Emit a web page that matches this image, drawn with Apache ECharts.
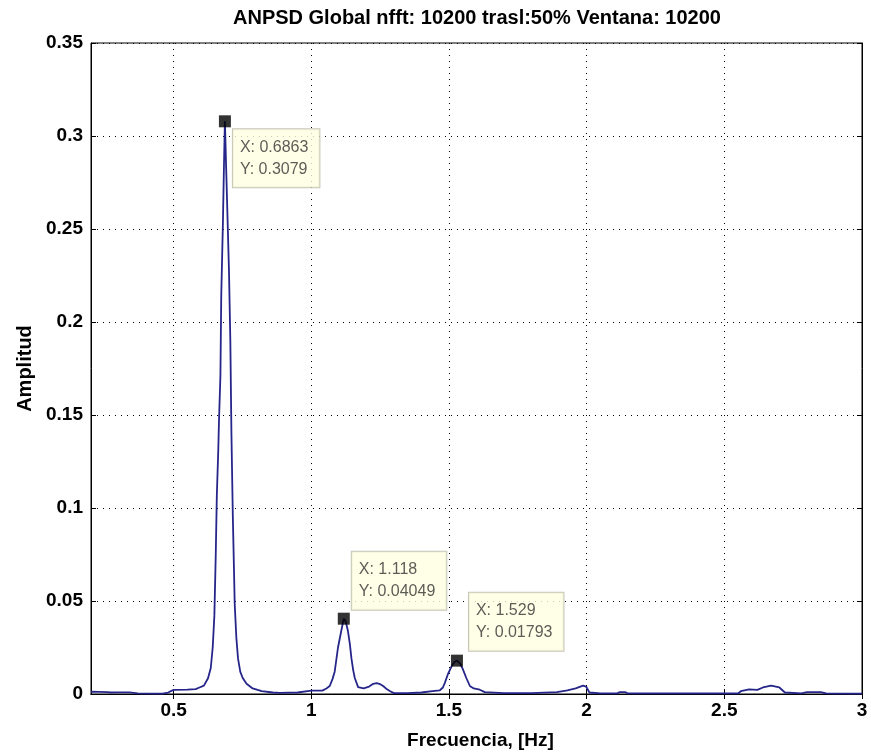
<!DOCTYPE html>
<html>
<head>
<meta charset="utf-8">
<script src="https://cdn.jsdelivr.net/npm/echarts@6/dist/echarts.min.js"></script>
<style>
html,body{margin:0;padding:0;background:#fff;overflow:hidden;}
#c{width:871px;height:755px;}
</style>
</head>
<body>
<div id="c"></div>
<script>
var freq = [0.20,0.23,0.26,0.27,0.30,0.34,0.37,0.42,0.46,0.48,0.50,0.55,0.58,0.594,0.61,0.625,0.635,0.642,0.648,0.653,0.657,0.662,0.665,0.670,0.673,0.679,0.683,0.6863,0.691,0.696,0.701,0.706,0.710,0.715,0.722,0.728,0.734,0.742,0.751,0.765,0.787,0.82,0.86,0.885,0.95,1.00,1.04,1.055,1.067,1.077,1.085,1.097,1.109,1.118,1.125,1.133,1.140,1.146,1.152,1.158,1.170,1.190,1.210,1.225,1.237,1.250,1.261,1.275,1.285,1.30,1.35,1.40,1.44,1.467,1.478,1.485,1.497,1.510,1.520,1.529,1.540,1.550,1.563,1.576,1.590,1.612,1.63,1.70,1.80,1.892,1.93,1.96,1.987,1.998,2.01,2.05,2.11,2.12,2.14,2.15,2.30,2.45,2.55,2.56,2.59,2.62,2.64,2.67,2.70,2.72,2.78,2.80,2.85,2.87,2.95,3.00];
var amp = [0.0012,0.0011,0.0010,0.0008,0.0009,0.0009,0.0003,0.0002,0.0002,0.0008,0.0022,0.0024,0.0026,0.0035,0.0045,0.0085,0.0140,0.0250,0.0420,0.0745,0.1070,0.1300,0.1480,0.1710,0.2140,0.2530,0.2850,0.3079,0.2820,0.2550,0.2280,0.1900,0.1400,0.0960,0.0480,0.0300,0.0190,0.0120,0.0086,0.0055,0.0030,0.0015,0.0008,0.0006,0.0008,0.0018,0.0018,0.0030,0.0043,0.0080,0.0120,0.0250,0.0340,0.04049,0.0390,0.0340,0.0270,0.0190,0.0130,0.0086,0.0037,0.0030,0.0040,0.0055,0.0059,0.0053,0.0043,0.0025,0.0016,0.0005,0.0005,0.0008,0.0016,0.0020,0.0035,0.0060,0.0110,0.0150,0.0172,0.01793,0.0165,0.0135,0.0086,0.0043,0.0030,0.0023,0.0010,0.0005,0.0005,0.0010,0.0020,0.0030,0.0045,0.0040,0.0008,0.0003,0.0003,0.0010,0.0010,0.0003,0.0003,0.0003,0.0003,0.0015,0.0025,0.0022,0.0035,0.0045,0.0035,0.0008,0.0003,0.0010,0.0010,0.0003,0.0002,0.0002];
var tipX = [0.6863, 1.118, 1.529];
var tipY = [0.3079, 0.04049, 0.01793];
var xTicks = [0.5, 1, 1.5, 2, 2.5, 3];
var titleText = 'ANPSD Global nfft: 10200 trasl:50% Ventana: 10200';
var xName = 'Frecuencia, [Hz]';
var yName = 'Amplitud';

var labelPos = [[14, 14], [14, -61], [18, -62]];

var lineData = freq.map(function (f, i) { return [f, amp[i]]; });
var tipData = tipX.map(function (x, i) {
  return {
    value: [x, tipY[i]],
    label: { position: labelPos[i] }
  };
});

var font = 'Liberation Sans, Arial, sans-serif';
var gridLine = { show: true, lineStyle: { color: '#000', width: 1, type: [1, 5] } };

var chart = echarts.init(document.getElementById('c'), null, { renderer: 'canvas', width: 871, height: 755 });
chart.setOption({
  backgroundColor: '#fff',
  animation: false,
  title: {
    text: titleText, left: 228, top: 3,
    textStyle: { fontFamily: font, fontWeight: 'bold', fontSize: 20, color: '#000' }
  },
  grid: { left: 91, top: 43, width: 771, height: 653, show: true, borderColor: '#000', borderWidth: 1, backgroundColor: '#fff' },
  xAxis: [{
    type: 'value', min: 0.2, max: 3, position: 'bottom',
    name: xName, nameLocation: 'middle', nameGap: 37,
    nameTextStyle: { fontFamily: font, fontWeight: 'bold', fontSize: 19, color: '#000', padding: [0, 0, 0, 8] },
    axisLine: { show: true, lineStyle: { color: '#000', width: 1 } },
    axisTick: { show: true, inside: true, length: 5, customValues: xTicks, lineStyle: { color: '#000' } },
    axisLabel: { customValues: xTicks, margin: 7, fontFamily: font, fontWeight: 'bold', fontSize: 19, color: '#000' },
    splitLine: gridLine
  }, {
    type: 'value', min: 0.2, max: 3, position: 'top',
    axisLine: { show: true, lineStyle: { color: '#000' } },
    axisTick: { show: true, inside: true, length: 5, customValues: xTicks, lineStyle: { color: '#000' } },
    axisLabel: { show: false },
    splitLine: { show: false }
  }],
  yAxis: [{
    type: 'value', min: 0, max: 0.35, interval: 0.05, position: 'left',
    name: yName, nameLocation: 'middle', nameGap: 52, nameRotate: 90,
    nameTextStyle: { fontFamily: font, fontWeight: 'bold', fontSize: 20, color: '#000' },
    axisLine: { show: true, lineStyle: { color: '#000', width: 1 } },
    axisTick: { show: true, inside: true, length: 5, lineStyle: { color: '#000' } },
    axisLabel: { margin: 8, fontFamily: font, fontWeight: 'bold', fontSize: 19, color: '#000' },
    splitLine: gridLine
  }, {
    type: 'value', min: 0, max: 0.35, interval: 0.05, position: 'right',
    axisLine: { show: true, lineStyle: { color: '#000' } },
    axisTick: { show: true, inside: true, length: 5, lineStyle: { color: '#000' } },
    axisLabel: { show: false },
    splitLine: { show: false }
  }],
  series: [{
    type: 'line', xAxisIndex: 0, yAxisIndex: 0,
    data: lineData, showSymbol: false, symbol: 'none',
    lineStyle: { color: '#26268a', width: 1.8 },
    z: 3
  }, {
    type: 'scatter', xAxisIndex: 0, yAxisIndex: 0,
    data: tipData, symbol: 'rect', symbolSize: 12,
    itemStyle: { color: '#000' },
    label: {
      show: true,
      formatter: function (p) { return 'X: ' + p.value[0] + '\nY: ' + p.value[1]; },
      fontFamily: font, fontSize: 16, color: '#333', lineHeight: 22,
      backgroundColor: '#ffffe1', borderColor: '#b8b8a8', borderWidth: 1,
      padding: [7, 11, 7, 7], align: 'left', verticalAlign: 'top'
    },
    z: 5
  }]
});
</script>
</body>
</html>
